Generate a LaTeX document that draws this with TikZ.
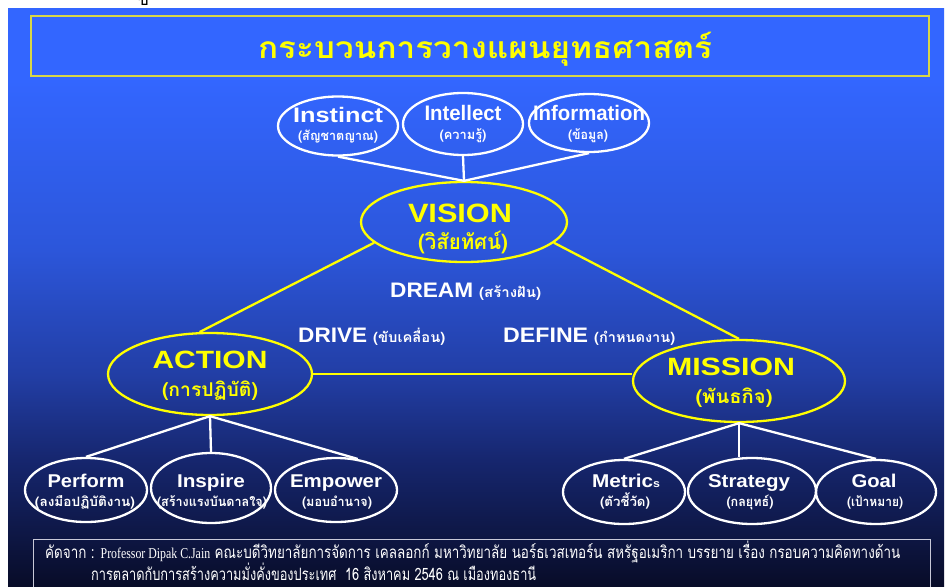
\documentclass[tikz,border=0pt]{standalone}
\usepackage{graphicx}
\usepackage{fontspec}
\setmainfont{Liberation Sans}
\newfontfamily\thai[Script=Thai]{Loma}
\newfontfamily\lserif{Liberation Serif}
\usetikzlibrary{shapes.geometric}
\definecolor{bgA}{RGB}{51,102,255}
\definecolor{bgB}{RGB}{44,86,218}
\definecolor{bgC}{RGB}{34,62,165}
\definecolor{bgD}{RGB}{22,38,110}
\definecolor{bgE}{RGB}{8,12,40}
\definecolor{ylw}{RGB}{255,255,0}
\definecolor{tbord}{RGB}{215,215,70}
\definecolor{fbord}{RGB}{200,200,215}
\pgfdeclareverticalshading{bgshade}{100bp}{color(0bp)=(bgE); color(25bp)=(bgE); color(35.9bp)=(bgD); color(43.3bp)=(bgC); color(54.1bp)=(bgB); color(68.85bp)=(bgA); color(75bp)=(bgA); color(100bp)=(bgA)}
\newsavebox\fitbox
\newcommand\fitto[2]{\sbox\fitbox{#2}\pgfmathsetmacro\fitsc{#1/\the\wd\fitbox}\scalebox{\fitsc}[1]{\usebox\fitbox}}
\newcommand\fs[1]{\fontsize{#1}{#1}\selectfont}
\tikzset{
  wring/.style={ellipse, draw=white, line width=2.3pt, inner sep=0pt},
  yring/.style={ellipse, draw=ylw, line width=2.3pt, inner sep=0pt},
  wline/.style={draw=white, line width=2.3pt},
  yline/.style={draw=ylw, line width=2.3pt},
  wtxt/.style={text=white, inner sep=0pt, anchor=base, font=\bfseries},
  ytxt/.style={text=ylw, inner sep=0pt, anchor=base, font=\bfseries},
}
\begin{document}
\begin{tikzpicture}[x=1pt,y=-1pt]
\useasboundingbox (0,0) rectangle (949,586);
\fill[white] (0,0) rectangle (949,586);
\node[text=black, inner sep=0pt, anchor=base] (topglyph) at (143,6) {\thai\fs{18}ข};
\fill[shading=bgshade] (8,9) rectangle (944,586);
% title
\node[draw=tbord, line width=1.4pt, rectangle, minimum width=898pt, minimum height=60pt, inner sep=0pt] (titlebox) at (480,46) {};
\node[ytxt] (title) at (485,59) {\fitto{454}{\thai\fs{30}กระบวนการวางแผนยุทธศาสตร์}};
% top ellipses
\node[wring, minimum width=120pt, minimum height=59pt] (instinct) at (338,126) {};
\node[wring, minimum width=120pt, minimum height=62pt] (intellect) at (463,124) {};
\node[wring, minimum width=120pt, minimum height=58pt] (information) at (589,123) {};
\node[wtxt] (tInstinct) at (338,122) {\fitto{90}{\fs{21}Instinct}};
\node[wtxt] (sInstinct) at (338,140) {\fitto{80}{\thai\fs{13}(สัญชาตญาณ)}};
\node[wtxt] (tIntellect) at (463,120) {\fitto{77}{\fs{21}Intellect}};
\node[wtxt] (sIntellect) at (463,139) {\fitto{47}{\thai\fs{13}(ความรู้)}};
\node[wtxt] (tInformation) at (589,120) {\fitto{112}{\fs{21}Information}};
\node[wtxt] (sInformation) at (588,139) {\fitto{40}{\thai\fs{13}(ข้อมูล)}};
% vision
\node[yring, minimum width=206pt, minimum height=80pt] (vision) at (464,222) {};
\node[ytxt] (tVision) at (460,222) {\fitto{104}{\fs{26.5}VISION}};
\node[ytxt] (sVision) at (463,249) {\fitto{90}{\thai\fs{21}(วิสัยทัศน์)}};
\draw[wline] (instinct.south) -- (vision.north);
\draw[wline] (intellect.south) -- (vision.north);
\draw[wline] (information.south) -- (vision.north);
% action and mission
\node[yring, minimum width=204pt, minimum height=82pt] (action) at (210,374) {};
\node[ytxt] (tAction) at (210,368) {\fitto{115}{\fs{25}ACTION}};
\node[ytxt] (sAction) at (210,396) {\fitto{96}{\thai\fs{19}(การปฏิบัติ)}};
\node[yring, minimum width=212pt, minimum height=82pt] (mission) at (739,381) {};
\node[ytxt] (tMission) at (731,375) {\fitto{128}{\fs{25}MISSION}};
\node[ytxt] (sMission) at (734,403) {\fitto{77}{\thai\fs{19}(พันธกิจ)}};
\draw[yline] (vision.193) -- (action.104);
\draw[yline] (vision.347) -- (mission.north);
\draw[yline] (action.east) -- (action.east -| mission.west);
% labels
\node[wtxt, anchor=base west] (dream) at (390,297) {\fitto{83}{\fs{21}DREAM}\hspace{6pt}\fitto{62}{\thai\fs{14}(สร้างฝัน)}};
\node[wtxt, anchor=base west] (drive) at (298,342) {\fitto{69}{\fs{21}DRIVE}\hspace{6pt}\fitto{72}{\thai\fs{14}(ขับเคลื่อน)}};
\node[wtxt, anchor=base west] (define) at (503,342) {\fitto{85}{\fs{21}DEFINE}\hspace{6pt}\fitto{81}{\thai\fs{14}(กำหนดงาน)}};
% bottom left
\node[wring, minimum width=122pt, minimum height=64pt] (perform) at (86,490) {};
\node[wring, minimum width=120pt, minimum height=70pt] (inspire) at (211,488) {};
\node[wring, minimum width=122pt, minimum height=64pt] (empower) at (336,490) {};
\node[wtxt] (tPerform) at (86,487) {\fitto{77}{\fs{18.5}Perform}};
\node[wtxt] (sPerform) at (85,506) {\fitto{100}{\thai\fs{13}(ลงมือปฏิบัติงาน)}};
\node[wtxt] (tInspire) at (211,487) {\fitto{68}{\fs{18.5}Inspire}};
\node[wtxt] (sInspire) at (212,506) {\fitto{110}{\thai\fs{13}(สร้างแรงบันดาลใจ)}};
\node[wtxt] (tEmpower) at (336,487) {\fitto{92}{\fs{18.5}Empower}};
\node[wtxt] (sEmpower) at (337,506) {\fitto{70}{\thai\fs{13}(มอบอำนาจ)}};
\draw[wline] (action.south) -- (perform.north);
\draw[wline] (action.south) -- (inspire.north);
\draw[wline] (action.south) -- (empower.55);
% bottom right
\node[wring, minimum width=122pt, minimum height=64pt] (metrics) at (624,492) {};
\node[wring, minimum width=128pt, minimum height=66pt] (strategy) at (752,491) {};
\node[wring, minimum width=120pt, minimum height=64pt] (goal) at (876,492) {};
\node[wtxt] (tMetrics) at (626,487) {\fitto{68}{\fs{18.5}Metric{\fs{11}s}}};
\node[wtxt] (sMetrics) at (625,506) {\fitto{50}{\thai\fs{13}(ตัวชี้วัด)}};
\node[wtxt] (tStrategy) at (749,487) {\fitto{82}{\fs{18.5}Strategy}};
\node[wtxt] (sStrategy) at (750,506) {\fitto{47}{\thai\fs{13}(กลยุทธ์)}};
\node[wtxt] (tGoal) at (874,487) {\fitto{45}{\fs{18.5}Goal}};
\node[wtxt] (sGoal) at (875,506) {\fitto{56}{\thai\fs{13}(เป้าหมาย)}};
\draw[wline] (mission.south) -- (metrics.north);
\draw[wline] (mission.south) -- (mission.south |- strategy.north);
\draw[wline] (mission.south) -- (goal.north);
% footer
\node[draw=fbord, line width=1pt, rectangle, minimum width=897pt, minimum height=70pt, inner sep=0pt, anchor=north west] (footbox) at (33,539) {};
\node[text=white, inner sep=0pt, anchor=base west] (foot1) at (45,558) {\fitto{855}{\thai\fs{17}คัดจาก : {\lserif\fs{15}Professor Dipak C.Jain} คณะบดีวิทยาลัยการจัดการ เคลลอกก์ มหาวิทยาลัย นอร์ธเวสเทอร์น สหรัฐอเมริกา บรรยาย เรื่อง กรอบความคิดทางด้าน}};
\node[text=white, inner sep=0pt, anchor=base west] (foot2) at (91,580) {\fitto{445}{\thai\fs{17}การตลาดกับการสร้างความมั่งคั่งของประเทศ\ \ 16 สิงหาคม 2546 ณ เมืองทองธานี}};
\end{tikzpicture}
\end{document}
